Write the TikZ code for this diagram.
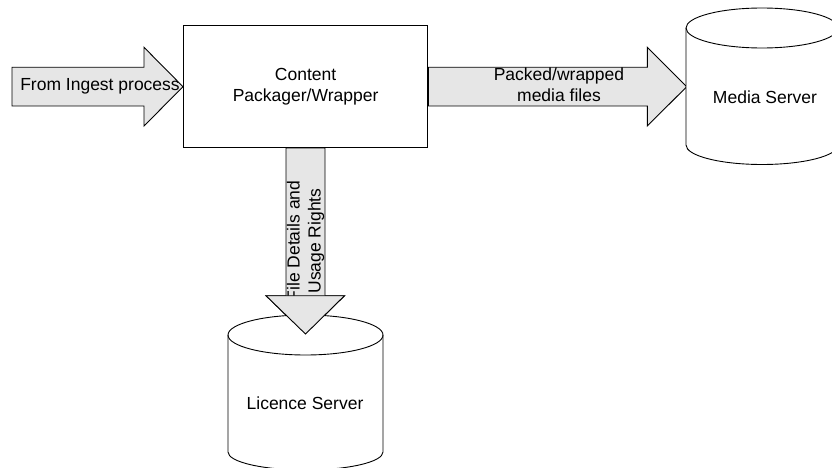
\documentclass[tikz,border=0pt]{standalone}
\usepackage{fontspec}
\setmainfont{Liberation Sans}
\begin{document}
\begin{tikzpicture}[x=1pt,y=-1pt,
  line width=0.9pt,
  flow/.style={draw=black, fill=flowgray, line join=miter},
  lbl/.style={font=\fontsize{17.5}{21}\selectfont, align=center, inner sep=0pt},
  drum/.style={draw=black, fill=white},
]
\definecolor{flowgray}{RGB}{230,230,230}
\useasboundingbox (0,0) rectangle (832,468);

% incoming arrow
\draw[flow] (12,67.3) -- (144,67.3) -- (144,47.3) -- (183,86.7) -- (144,126) -- (144,106) -- (12,106) -- cycle;
\node[lbl] (ingest) at (100,86.7) {From Ingest process};

% packager box
\node[draw=black, fill=white, minimum width=244.5pt, minimum height=122.7pt, inner sep=0pt, lbl] (pack)
  at (305.6,86.4) {Content\\Packager/Wrapper};

% outgoing arrow to the media server
\draw[flow] (pack.east |- 0,67.3) -- (647.3,67.3) -- (647.3,47.3) -- (686.7,86.7) -- (647.3,126) -- (647.3,106) -- (pack.east |- 0,106) -- cycle;
\node[lbl] (packed) at (559,85) {Packed/wrapped\\media files};

% media server cylinder (y axis points down, so angles run the other way)
\draw[drum] (686,28) -- (686,145) arc[start angle=180, end angle=0, x radius=76, y radius=19.5]
  -- (838,28) arc[start angle=0, end angle=-180, x radius=76, y radius=20] -- cycle;
\draw (686,28) arc[start angle=180, end angle=0, x radius=76, y radius=20];
\node[lbl] (media) at (765,97) {Media Server};

% arrow down to the licence server
\draw[flow] (286,148) -- (286,295.7) -- (266,295.7) -- (305.5,334) -- (344.5,295.7) -- (325,295.7) -- (325,148) -- cycle;
\node[lbl, rotate=90] (rights) at (305.5,241) {File Details and\\Usage Rights};

% licence server cylinder
\draw[drum] (228,335) -- (228,452) arc[start angle=180, end angle=0, x radius=77.5, y radius=18]
  -- (383,335) arc[start angle=0, end angle=-180, x radius=77.5, y radius=20] -- cycle;
\draw (228,335) arc[start angle=180, end angle=0, x radius=77.5, y radius=20];
\node[lbl] (licence) at (305,403) {Licence Server};

% arrow tip drawn over the cylinder top
\draw[flow] (266,295.7) -- (305.5,334) -- (344.5,295.7) -- cycle;
\end{tikzpicture}
\end{document}
